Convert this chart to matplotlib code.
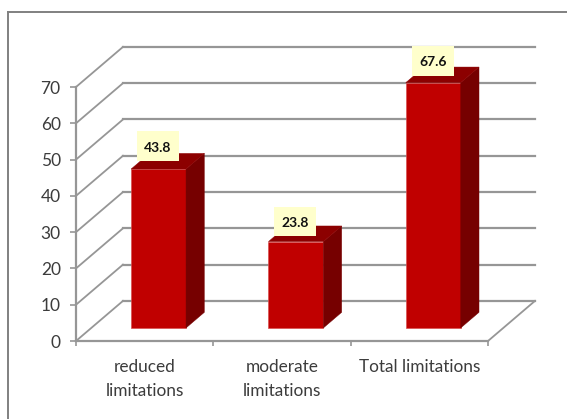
import matplotlib
matplotlib.use('Agg')
import matplotlib.pyplot as plt
from matplotlib.lines import Line2D
from matplotlib.patches import Polygon, Rectangle

categories = ['reduced\nlimitations', 'moderate\nlimitations', 'Total limitations']
values = [43.8, 23.8, 67.6]
y_ticks = [0, 10, 20, 30, 40, 50, 60, 70]
label_lift = [6.3, 5.5, 6.0]

W, H = 567, 419
GRID = '#969696'
TEXT = '#3c3c3c'

# fake 3d: how far the back wall sits from the front plane, in data units
depth_x = 0.342
depth_y = 11.05


def project(x, y, d):
    return (x + d * depth_x, y + d * depth_y)


plt.rcParams['font.family'] = ['Lato', 'DejaVu Sans']

fig = plt.figure(figsize=(W / 100, H / 100), dpi=100)
ax = fig.add_axes([76 / W, 1 - 341 / H, 412 / W, 254 / H])
ax.set_xlim(0, 3)
ax.set_ylim(0, 70)
ax.patch.set_visible(False)

# outer border, open on the right and bottom
fig.add_artist(Line2D([8 / W, 8 / W], [0, 1 - 12.5 / H], color='#808080', lw=1.4))
fig.add_artist(Line2D([8 / W, 1], [1 - 12.5 / H, 1 - 12.5 / H], color='#808080', lw=1.4))

# walls and floor
for v in y_ticks:
    x0, y0 = project(0, v, 1)
    ax.plot([0, x0], [v, y0], color=GRID, lw=1.3, clip_on=False, zorder=1)
    ax.plot([x0, 3 + depth_x], [y0, y0], color=GRID, lw=1.6, clip_on=False, zorder=1)
x1, y1 = project(3, 0, 1)
ax.plot([3, x1], [0, y1], color=GRID, lw=1.3, clip_on=False, zorder=1)

# bars: front, side and top faces
bar_w = 0.4
d0, d1 = 0.325, 0.715
box_w, box_h = 0.306, 8.1
for i, v in enumerate(values):
    left = i + 0.29
    right = left + bar_w
    a = project(left, 0, d0)
    b = project(right, 0, d0)
    c = project(right, v, d0)
    e = project(left, v, d0)
    b2 = project(right, 0, d1)
    c2 = project(right, v, d1)
    e2 = project(left, v, d1)
    ax.add_patch(Polygon([a, b, c, e], fc='#c00000', ec='#d85050', lw=0.5, clip_on=False, zorder=3))
    ax.add_patch(Polygon([b, b2, c2, c], fc='#760000', ec='#760000', lw=0.3, clip_on=False, zorder=3))
    ax.add_patch(Polygon([e, c, c2, e2], fc='#8c0000', ec='#8c0000', lw=0.3, clip_on=False, zorder=3))

    # value label on a pale yellow box
    cx = (a[0] + b[0]) / 2 - 0.004
    cy = e[1] + label_lift[i]
    ax.add_patch(Rectangle((cx - box_w / 2, cy - box_h / 2), box_w, box_h, fc='#ffffcc', ec='none',
                           clip_on=False, zorder=4))
    ax.text(cx, cy - 0.4, str(v), ha='center', va='center', fontsize=10, fontweight='bold',
            color='#111111', zorder=5, clip_on=False)

for s in ['top', 'right']:
    ax.spines[s].set_visible(False)
for s in ['left', 'bottom']:
    ax.spines[s].set_color(GRID)
    ax.spines[s].set_linewidth(1.6)

ax.set_yticks(y_ticks)
ax.set_xticks([0, 1, 2, 3])
ax.set_xticklabels([])
ax.set_xticks([0.5, 1.5, 2.5], minor=True)
ax.set_xticklabels(categories, minor=True, linespacing=1.6)
ax.tick_params(axis='x', which='major', length=3.5, width=1.2, color=GRID)
ax.tick_params(axis='x', which='minor', length=0, pad=13.3, labelsize=12.4, labelcolor=TEXT)
ax.tick_params(axis='y', length=4, width=1.2, color=GRID, pad=7, labelsize=12.5, labelcolor=TEXT)

fig.savefig('out.png', dpi=100, facecolor='white')
